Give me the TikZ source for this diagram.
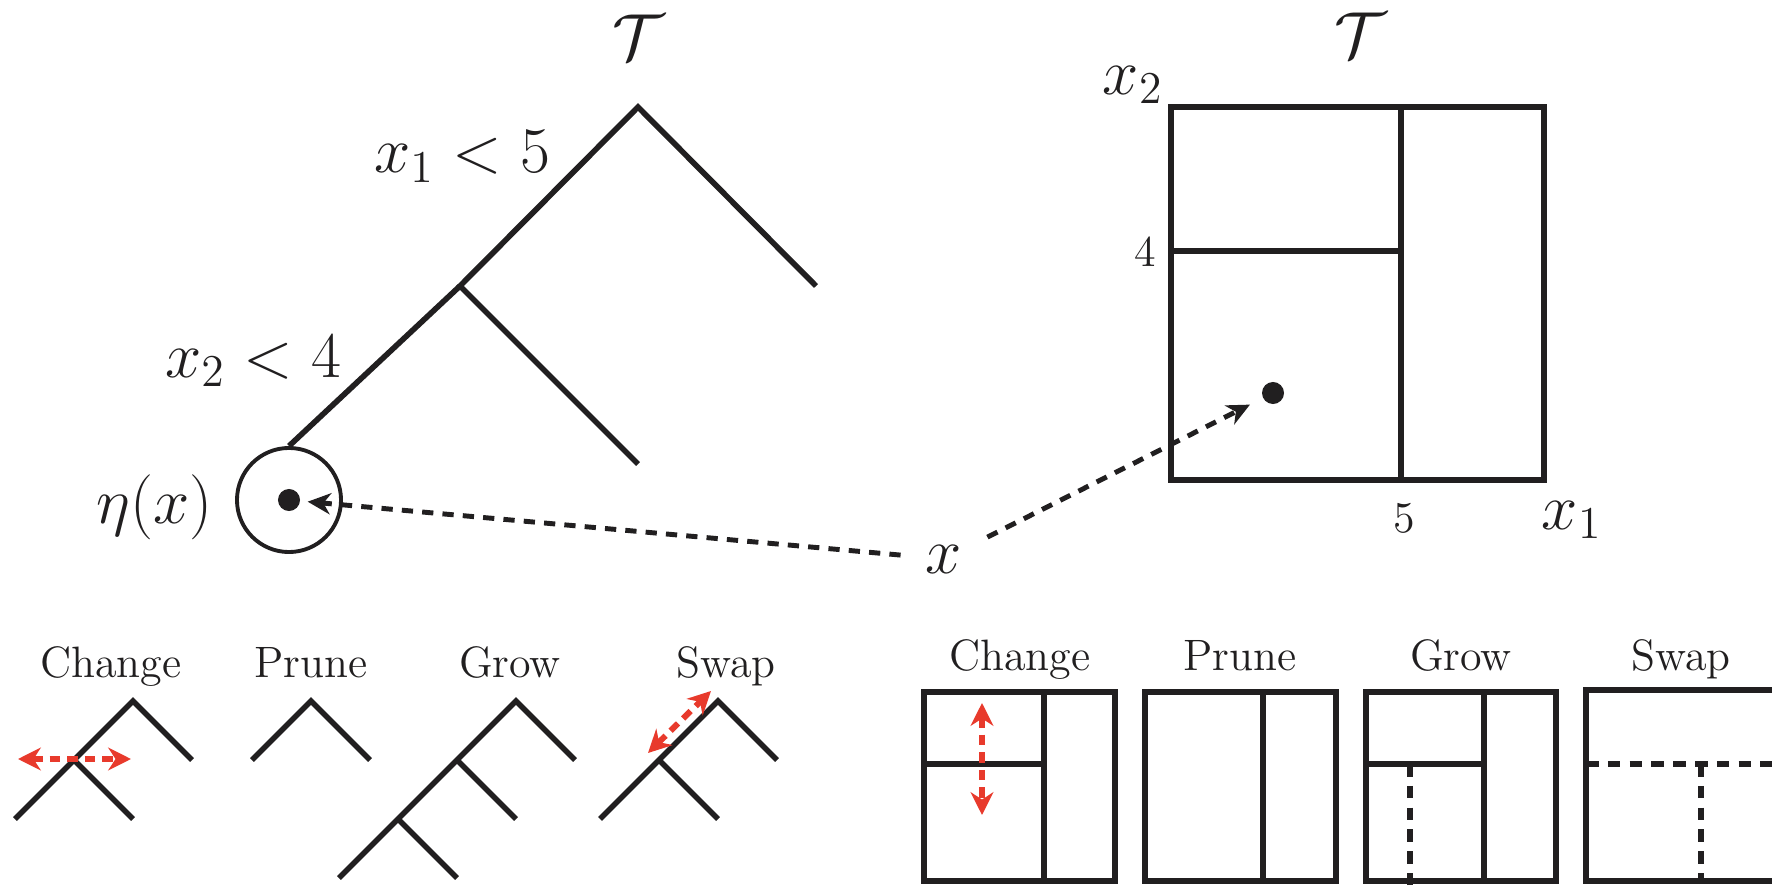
\RequirePackage{fix-cm}
\documentclass[tikz,border=0pt]{standalone}
\usepackage{tikz}
\usetikzlibrary{arrows.meta}
\definecolor{ink}{RGB}{33,31,32}
\definecolor{movered}{RGB}{232,58,44}
\tikzset{
  branch/.style={draw=ink, line width=1.6pt},
  boxframe/.style={draw=ink, line width=1.9pt},
  splitline/.style={draw=ink, line width=1.5pt},
  newsplit/.style={splitline, dash pattern=on 3.6pt off 2.6pt},
  lookup/.style={draw=ink, line width=1.4pt, dash pattern=on 3.2pt off 2.6pt,
    -{Stealth[length=6.5pt,width=6pt,inset=2pt]}},
  movearrow/.style={draw=movered, line width=1.7pt, dash pattern=on 3pt off 2pt,
    {Stealth[length=6.5pt,width=6.5pt]}-{Stealth[length=6.5pt,width=6.5pt]}},
  datapoint/.style={circle, fill=ink, inner sep=0pt, minimum size=0.22cm},
  mathbig/.style={text=ink, font=\fontsize{18.5}{22}\selectfont, inner sep=2pt},
  ticknum/.style={text=ink, font=\fontsize{12.5}{15}\selectfont, inner sep=1pt},
  movelabel/.style={text=ink, font=\fontsize{12.5}{15}\selectfont, inner sep=1pt}
}
\setlength{\parindent}{0pt}

\begin{document}
\begin{tikzpicture}[x=0.01cm, y=-0.01cm]
  \useasboundingbox (0,0) rectangle (1772,885);

  % the tree T
  \coordinate (root) at (638,107);
  \coordinate (split) at (460,286);
  \coordinate (leafr) at (816,286);
  \coordinate (leafm) at (638,464);
  \node[circle, draw=ink, line width=1.1pt, minimum size=1.04cm, inner sep=0pt] (leaf) at (289,500) {};
  \node[datapoint] (leafdot) at (leaf.center) {};
  \draw[branch] (leafr) -- (root) -- (split) -- (leafm);
  \draw[branch] (split) -- (leaf.north);
  \node[mathbig, inner sep=0pt] (ttree) at (638,37) {$\mathcal{T}$};
  \node[mathbig, anchor=base] (rule1) at (462,173) {$x_1 < 5$};
  \node[mathbig, anchor=base] (rule2) at (253,377) {$x_2 < 4$};
  \node[mathbig] (eta) at (155,507) {$\eta(x)$};

  % the partition of T
  \draw[boxframe] (1171,107) rectangle (1544,480);
  \draw[splitline] (1401,107) -- (1401,480);
  \draw[splitline] (1171,251) -- (1401,251);
  \node[datapoint] (xdot) at (1273,393) {};
  \node[mathbig, inner sep=0pt] (tbox) at (1360,35) {$\mathcal{T}$};
  \node[mathbig] (axis2) at (1133,85) {$x_2$};
  \node[mathbig] (axis1) at (1572,520) {$x_1$};
  \node[ticknum] (four) at (1145,252) {4};
  \node[ticknum] (five) at (1404,518) {5};

  % the input x
  \node[mathbig, inner sep=7pt] (xin) at (944,559) {$x$};
  \draw[lookup, shorten >=2pt] (xin) -- (leafdot);
  \draw[lookup, shorten >=4pt] (xin) -- (xdot);

  % moves on the tree
  \node[movelabel, anchor=base] (tchange) at (111,677) {Change};
  \coordinate (c0) at (133,701);
  \coordinate (c1) at (74,760);
  \coordinate (c2) at (192,760);
  \coordinate (c3) at (15,819);
  \coordinate (c4) at (133,819);
  \draw[branch] (c2) -- (c0) -- (c3);
  \draw[branch] (c1) -- (c4);
  \coordinate (cl) at (18,759);
  \coordinate (cr) at (131,759);
  \draw[movearrow] (cl) -- (cr);

  \node[movelabel, anchor=base] (tprune) at (311,677) {Prune};
  \coordinate (p0) at (311,701);
  \coordinate (p1) at (252,760);
  \coordinate (p2) at (370,760);
  \draw[branch] (p1) -- (p0) -- (p2);

  \node[movelabel, anchor=base] (tgrow) at (510,677) {Grow};
  \coordinate (g0) at (516,701);
  \coordinate (g1) at (457,760);
  \coordinate (g2) at (575,760);
  \coordinate (g3) at (398,819);
  \coordinate (g4) at (516,819);
  \coordinate (g5) at (339,878);
  \coordinate (g6) at (457,878);
  \draw[branch] (g2) -- (g0) -- (g5);
  \draw[branch] (g1) -- (g4);
  \draw[branch] (g3) -- (g6);

  \node[movelabel, anchor=base] (tswap) at (726,677) {Swap};
  \coordinate (s0) at (718,701);
  \coordinate (s1) at (659,760);
  \coordinate (s2) at (777,760);
  \coordinate (s3) at (600,819);
  \coordinate (s4) at (718,819);
  \draw[branch] (s2) -- (s0) -- (s3);
  \draw[branch] (s1) -- (s4);
  \coordinate (sl) at (648,753);
  \coordinate (sr) at (711,691);
  \draw[movearrow] (sl) -- (sr);

  % moves on the partition
  \node[movelabel, anchor=base] (bchange) at (1020,670) {Change};
  \draw[boxframe] (924,692) rectangle (1115,881);
  \draw[splitline] (1044,692) -- (1044,881);
  \draw[splitline] (924,764) -- (1044,764);
  \coordinate (bu) at (982,703);
  \coordinate (bd) at (982,815);
  \draw[movearrow] (bu) -- (bd);

  \node[movelabel, anchor=base] (bprune) at (1240,670) {Prune};
  \draw[boxframe] (1145,692) rectangle (1336,881);
  \draw[splitline] (1263,692) -- (1263,881);

  \node[movelabel, anchor=base] (bgrow) at (1461,670) {Grow};
  \draw[boxframe] (1366,692) rectangle (1556,881);
  \draw[splitline] (1484,692) -- (1484,881);
  \draw[splitline] (1366,764) -- (1484,764);
  \draw[newsplit] (1410,764) -- (1410,885);

  \node[movelabel, anchor=base] (bswap) at (1681,670) {Swap};
  \draw[boxframe] (1586,690) rectangle (1777,881);
  \draw[newsplit] (1586,764) -- (1777,764);
  \draw[newsplit] (1701,764) -- (1701,881);
\end{tikzpicture}
\end{document}
